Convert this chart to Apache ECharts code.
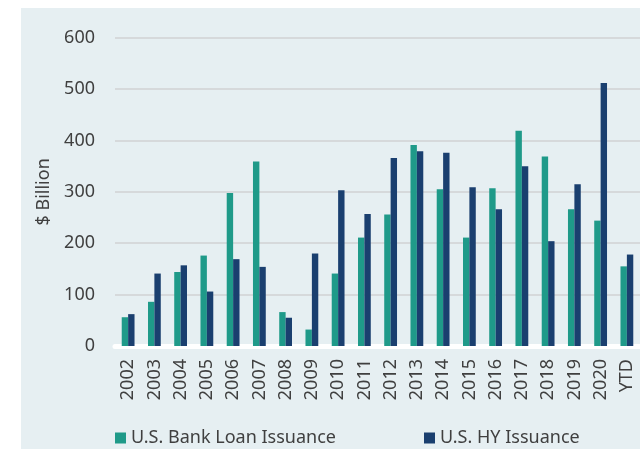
<!DOCTYPE html>
<html>
<head>
<meta charset="utf-8">
<script src="https://cdn.jsdelivr.net/npm/echarts@6/dist/echarts.min.js"></script>
<style>
html,body{margin:0;padding:0;background:#ffffff;}
#chart{width:640px;height:449px;}
</style>
</head>
<body>
<div id="chart"></div>
<script>
var categories = ['2002','2003','2004','2005','2006','2007','2008','2009','2010','2011','2012','2013','2014','2015','2016','2017','2018','2019','2020','YTD'];
var bankLoan = [56, 86, 144, 176, 298, 359, 66, 32, 141, 211, 256, 391, 305, 211, 307, 419, 369, 266, 244, 155];
var hyIssuance = [62, 141, 157, 106, 169, 154, 55, 180, 303, 257, 366, 379, 376, 309, 266, 350, 204, 315, 512, 178];
var yTicks = [0, 100, 200, 300, 400, 500, 600];
var seriesNames = ['U.S. Bank Loan Issuance', 'U.S. HY Issuance'];

var FONT = 'Noto Sans';
var TXT = '#404040';
var FS = 18;
var chart = echarts.init(document.getElementById('chart'), null, {renderer: 'canvas'});
chart.setOption({
  animation: false,
  backgroundColor: '#ffffff',
  textStyle: {fontFamily: FONT},
  graphic: {
    elements: [{
      type: 'rect', z: -100, silent: true,
      shape: {x: 21, y: 8, width: 640, height: 460},
      style: {fill: '#e6eff2'}
    }]
  },
  grid: {left: 115, right: -3, top: 37.7, bottom: 103, containLabel: false},
  legend: [{
    data: [seriesNames[0]],
    left: 110, top: 424,
    icon: 'rect', itemWidth: 11, itemHeight: 11, itemGap: 6,
    textStyle: {fontFamily: FONT, fontSize: FS, color: TXT}
  }, {
    data: [seriesNames[1]],
    left: 419, top: 424,
    icon: 'rect', itemWidth: 11, itemHeight: 11, itemGap: 6,
    textStyle: {fontFamily: FONT, fontSize: FS, color: TXT}
  }],
  xAxis: {
    type: 'category',
    data: categories,
    axisLine: {show: true, lineStyle: {color: '#ffffff', width: 5}},
    axisTick: {show: false},
    axisLabel: {rotate: 90, fontSize: FS, color: TXT, margin: 13, fontFamily: FONT}
  },
  yAxis: {
    type: 'value',
    min: yTicks[0], max: yTicks[yTicks.length - 1], interval: 100,
    name: '$ Billion',
    nameLocation: 'middle',
    nameGap: 62,
    nameTextStyle: {fontSize: FS, color: TXT, fontFamily: FONT},
    axisLine: {show: false},
    axisTick: {show: false},
    axisLabel: {fontSize: FS, color: TXT, margin: 20, fontFamily: FONT},
    splitLine: {lineStyle: {color: '#d6d9db', width: 2}}
  },
  series: [{
    name: seriesNames[0], type: 'bar', data: bankLoan,
    barWidth: 6.4, barGap: '0%',
    itemStyle: {color: '#1f9a89'}
  }, {
    name: seriesNames[1], type: 'bar', data: hyIssuance,
    barWidth: 6.4, barGap: '0%',
    itemStyle: {color: '#1a3f6f'}
  }]
});
</script>
</body>
</html>
